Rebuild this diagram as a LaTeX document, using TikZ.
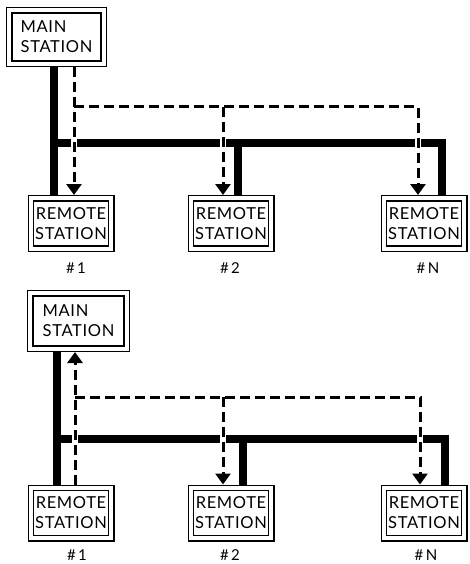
\documentclass[tikz,border=0pt]{standalone}
\usepackage{fontspec}
\setmainfont{Lato}
\usetikzlibrary{arrows.meta}
\tikzset{
  stbox/.style={draw, line width=1.3pt, double, double distance=4.1pt,
    inner sep=0pt, outer sep=3.35pt, font=\fontsize{16.5}{20}\selectfont\addfontfeatures{LetterSpace=4}},
  mainbox/.style={stbox, minimum width=#1, minimum height=53.3pt, align=left},
  remotebox/.style={stbox, minimum width=80.3pt, minimum height=50.3pt, align=center},
  numlabel/.style={font=\fontsize{15}{17}\selectfont, inner sep=0pt},
  bus/.style={line width=8pt, line cap=butt, line join=miter},
  gapline/.style={white, line width=5.5pt},
  sigline/.style={line width=3pt, dash pattern=on 10pt off 5pt},
  tip/.style={-{Triangle[width=15pt,length=11pt]}}
}
\begin{document}
\begin{tikzpicture}[x=1pt,y=-1pt]
\useasboundingbox[fill=white] (0,0) rectangle (469,564);

% ---------- top diagram ----------
\node[mainbox=94.3pt] (tm) at (56.5,37) {MAIN\\STATION};
\node[remotebox] (t1) at (71,223.5) {REMOTE\\STATION};
\node[remotebox] (t2) at (231,223.5) {REMOTE\\STATION};
\node[remotebox] (tN) at (424,223.5) {REMOTE\\STATION};
\node[numlabel] (tl1) at (76,268) {\#\,1};
\node[numlabel] (tl2) at (230,268) {\#\,2};
\node[numlabel] (tlN) at (428,268) {\#\,N};

\coordinate (tba) at (54,143);
\coordinate (tbb) at (238,143);
\coordinate (tbc) at (442,143);
\coordinate (tda) at (74,107);
\coordinate (tdb) at (223,107);
\coordinate (tdc) at (418,107);

\draw[bus] (tm.south -| tba) -- (t1.north -| tba);
\draw[bus] (tba) -- (tbc) -- (tN.north -| tbc);
\draw[bus] (tbb) -- (t2.north -| tbb);
\draw[gapline] (tba -| tda) ++(0,-4.5) -- ++(0,9);
\draw[gapline] (tba -| tdb) ++(0,-4.5) -- ++(0,9);
\draw[gapline] (tba -| tdc) ++(0,-4.5) -- ++(0,9);

\draw[sigline, tip] (tm.south -| tda) -- (t1.north -| tda);
\draw[sigline, tip] (tda) -- (tdc) -- (tN.north -| tdc);
\draw[sigline, tip] (tdb) -- (t2.north -| tdb);

% ---------- bottom diagram ----------
\node[mainbox=96.3pt, minimum height=55.3pt] (bm) at (78.5,321) {MAIN\\STATION};
\node[remotebox] (b1) at (71,513) {REMOTE\\STATION};
\node[remotebox] (b2) at (231,513) {REMOTE\\STATION};
\node[remotebox] (bN) at (424,513) {REMOTE\\STATION};
\node[numlabel] (bl1) at (77,555) {\#\,1};
\node[numlabel] (bl2) at (230,555) {\#\,2};
\node[numlabel] (blN) at (426,555) {\#\,N};

\coordinate (bba) at (57,439);
\coordinate (bbb) at (243,439);
\coordinate (bbc) at (445,439);
\coordinate (bda) at (75,397);
\coordinate (bdb) at (223,397);
\coordinate (bdc) at (420,397);

\draw[bus] (bm.south -| bba) -- (b1.north -| bba);
\draw[bus] (bba) -- (bbc) -- (bN.north -| bbc);
\draw[bus] (bbb) -- (b2.north -| bbb);
\draw[gapline] (bba -| bda) ++(0,-4.5) -- ++(0,9);
\draw[gapline] (bba -| bdb) ++(0,-4.5) -- ++(0,9);
\draw[gapline] (bba -| bdc) ++(0,-4.5) -- ++(0,9);

\draw[sigline, tip] (b1.north -| bda) -- (bm.south -| bda);
\draw[sigline, tip] (bda) -- (bdc) -- (bN.north -| bdc);
\draw[sigline, tip] (bdb) -- (b2.north -| bdb);
\end{tikzpicture}
\end{document}
